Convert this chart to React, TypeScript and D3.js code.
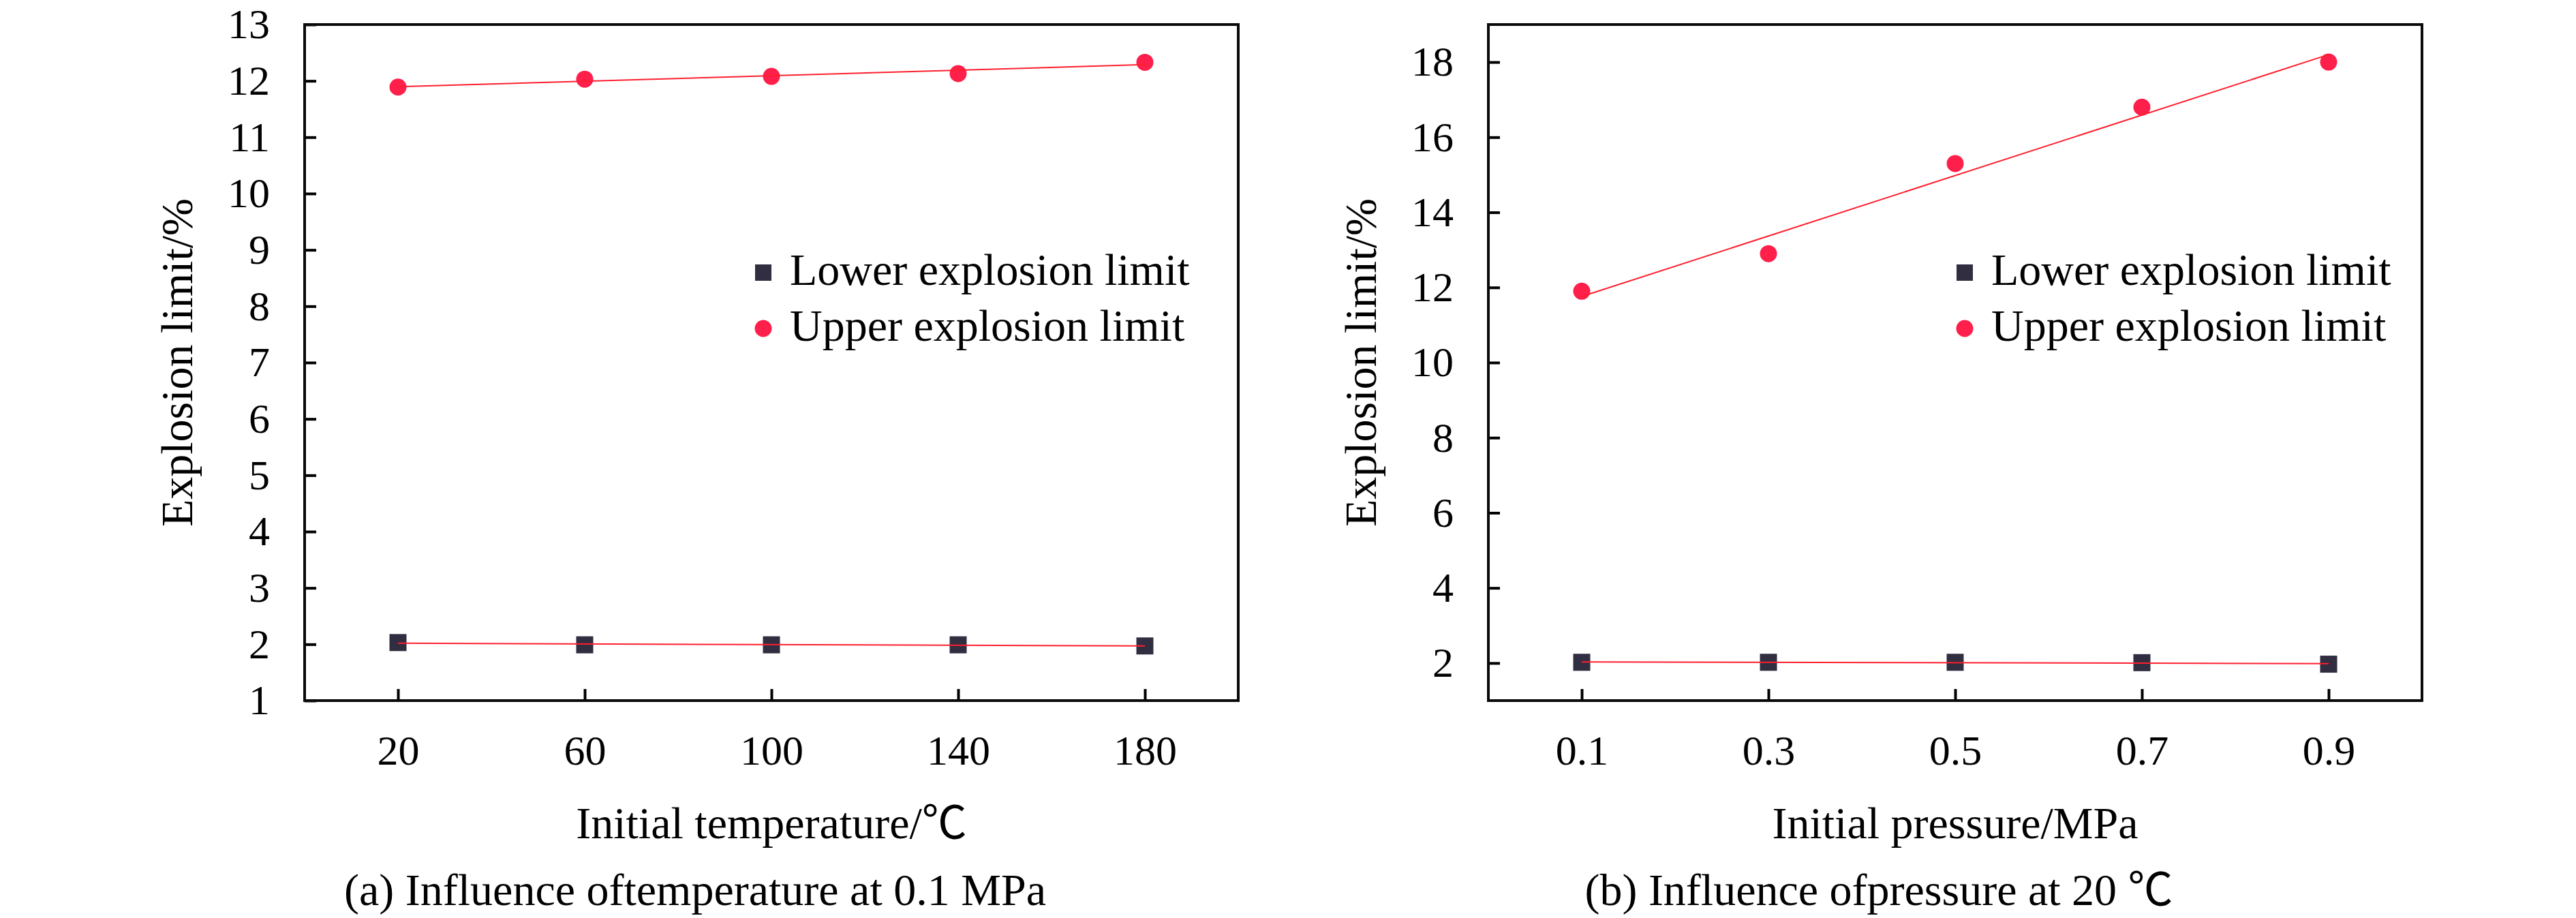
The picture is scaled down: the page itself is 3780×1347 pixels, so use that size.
import { useEffect, useRef } from 'react';
import * as d3 from 'd3';

// (a) temperature series at 0.1 MPa
const temperatures = [20, 60, 100, 140, 180];
const lowerByTemp = [2.03, 1.99, 1.99, 1.99, 1.97];
const upperByTemp = [11.89, 12.03, 12.08, 12.13, 12.33];
const tempTicks = [20, 60, 100, 140, 180];
const tempYTicks = [1, 2, 3, 4, 5, 6, 7, 8, 9, 10, 11, 12, 13];

// (b) pressure series at 20 ℃
const pressures = [0.1, 0.3, 0.5, 0.7, 0.9];
const lowerByPressure = [2.02, 2.02, 2.02, 2.01, 1.97];
const upperByPressure = [11.9, 12.9, 15.3, 16.8, 18.0];
const pressureTicks = [0.1, 0.3, 0.5, 0.7, 0.9];
const pressureYTicks = [2, 4, 6, 8, 10, 12, 14, 16, 18];

const legendLabels = ['Lower explosion limit', 'Upper explosion limit'];

const WIDTH = 3780;
const HEIGHT = 1347;
const FONT = '"Liberation Serif", "Times New Roman", "Noto Sans CJK SC", serif';
const SQUARE = '#302e40';
const CIRCLE = '#ff1f4b';
const FIT = '#ff1f2f';

interface PanelConfig {
  left: number;
  xDomain: [number, number];
  yDomain: [number, number];
  xs: number[];
  lower: number[];
  upper: number[];
  xTicks: number[];
  yTicks: number[];
  xFormat: (d: number) => string;
  xTitle: string;
  caption: string;
  legendOffset: number;
}

const panels: PanelConfig[] = [
  {
    left: 447,
    xDomain: [0, 200],
    yDomain: [1, 13],
    xs: temperatures,
    lower: lowerByTemp,
    upper: upperByTemp,
    xTicks: tempTicks,
    yTicks: tempYTicks,
    xFormat: d => String(d),
    xTitle: 'Initial temperature/℃',
    caption: '(a) Influence oftemperature at 0.1 MPa',
    legendOffset: 673,
  },
  {
    left: 2184,
    xDomain: [0, 1],
    yDomain: [1, 19],
    xs: pressures,
    lower: lowerByPressure,
    upper: upperByPressure,
    xTicks: pressureTicks,
    yTicks: pressureYTicks,
    xFormat: d => d.toFixed(1),
    xTitle: 'Initial pressure/MPa',
    caption: '(b) Influence ofpressure at 20 ℃',
    legendOffset: 699,
  },
];

// least squares fit, evaluated at the first and last x
function fitLine(xs: number[], ys: number[]) {
  const mx = d3.mean(xs) as number;
  const my = d3.mean(ys) as number;
  let num = 0;
  let den = 0;
  xs.forEach((x, i) => {
    num += (x - mx) * (ys[i] - my);
    den += (x - mx) * (x - mx);
  });
  const slope = num / den;
  const ends = [xs[0], xs[xs.length - 1]];
  return ends.map(x => [x, my + slope * (x - mx)] as [number, number]);
}

export default function App() {
  const svgRef = useRef<SVGSVGElement>(null);

  useEffect(() => {
    if (!svgRef.current) return;
    const svg = d3.select(svgRef.current);
    svg.selectAll('*').remove();

    const top = 36;
    const plotW = 1370;
    const plotH = 992;

    panels.forEach(p => {
      const x = d3.scaleLinear().domain(p.xDomain).range([p.left, p.left + plotW]);
      const y = d3.scaleLinear().domain(p.yDomain).range([top + plotH, top]);
      const g = svg.append('g');

      // axes, ticks pointing inward
      const yAxis = g
        .append('g')
        .attr('transform', `translate(${p.left},0)`)
        .call(
          d3.axisLeft(y).tickValues(p.yTicks).tickSizeInner(-17).tickSizeOuter(0).tickPadding(51)
        );
      const xAxis = g
        .append('g')
        .attr('transform', `translate(0,${top + plotH})`)
        .call(
          d3
            .axisBottom(x)
            .tickValues(p.xTicks)
            .tickFormat(d => p.xFormat(d as number))
            .tickSizeInner(-17)
            .tickSizeOuter(0)
            .tickPadding(50)
        );
      [yAxis, xAxis].forEach(a => {
        a.attr('font-family', FONT).attr('font-size', 62);
        a.select('.domain').remove();
        a.selectAll('line').attr('stroke', '#000').attr('stroke-width', 4);
        a.selectAll('text')
          .attr('fill', '#000')
          .attr('font-family', FONT)
          .attr('font-size', 62);
      });

      g.append('rect')
        .attr('x', p.left)
        .attr('y', top)
        .attr('width', plotW)
        .attr('height', plotH)
        .attr('fill', 'none')
        .attr('stroke', '#0a0a0a')
        .attr('stroke-width', 4);

      // markers
      p.xs.forEach((xv, i) => {
        g.append('rect')
          .attr('x', x(xv) - 12.5)
          .attr('y', y(p.lower[i]) - 12.5)
          .attr('width', 25)
          .attr('height', 25)
          .attr('fill', SQUARE);
        g.append('circle')
          .attr('cx', x(xv))
          .attr('cy', y(p.upper[i]))
          .attr('r', 12.5)
          .attr('fill', CIRCLE);
      });

      // fitted lines on top of the markers
      const line = d3
        .line<[number, number]>()
        .x(d => x(d[0]))
        .y(d => y(d[1]));
      [p.lower, p.upper].forEach(series => {
        g.append('path')
          .attr('d', line(fitLine(p.xs, series)) as string)
          .attr('fill', 'none')
          .attr('stroke', FIT)
          .attr('stroke-width', 2);
      });

      // legend
      const lx = p.left + p.legendOffset;
      const rows = [400, 482];
      g.append('rect')
        .attr('x', lx - 12)
        .attr('y', rows[0] - 12)
        .attr('width', 24)
        .attr('height', 24)
        .attr('fill', SQUARE);
      g.append('circle').attr('cx', lx).attr('cy', rows[1]).attr('r', 12.5).attr('fill', CIRCLE);
      legendLabels.forEach((label, i) => {
        g.append('text')
          .attr('x', lx + 39)
          .attr('y', rows[i] + 18)
          .attr('font-family', FONT)
          .attr('font-size', 66)
          .attr('fill', '#000')
          .text(label);
      });

      // titles
      g.append('text')
        .attr('transform', `translate(${p.left - 165},${top + plotH / 2}) rotate(-90)`)
        .attr('text-anchor', 'middle')
        .attr('font-family', FONT)
        .attr('font-size', 66)
        .attr('fill', '#000')
        .text('Explosion limit/%');
      g.append('text')
        .attr('x', p.left + plotW / 2)
        .attr('y', 1230)
        .attr('text-anchor', 'middle')
        .attr('font-family', FONT)
        .attr('font-size', 66)
        .attr('fill', '#000')
        .text(p.xTitle);
      g.append('text')
        .attr('x', p.left + plotW / 2 - 112)
        .attr('y', 1328)
        .attr('text-anchor', 'middle')
        .attr('font-family', FONT)
        .attr('font-size', 66)
        .attr('fill', '#000')
        .text(p.caption);
    });
  }, []);

  return (
    <svg
      ref={svgRef}
      width={WIDTH}
      height={HEIGHT}
      style={{ position: 'absolute', left: 0, top: 0, background: '#fff' }}
    ></svg>
  );
}
